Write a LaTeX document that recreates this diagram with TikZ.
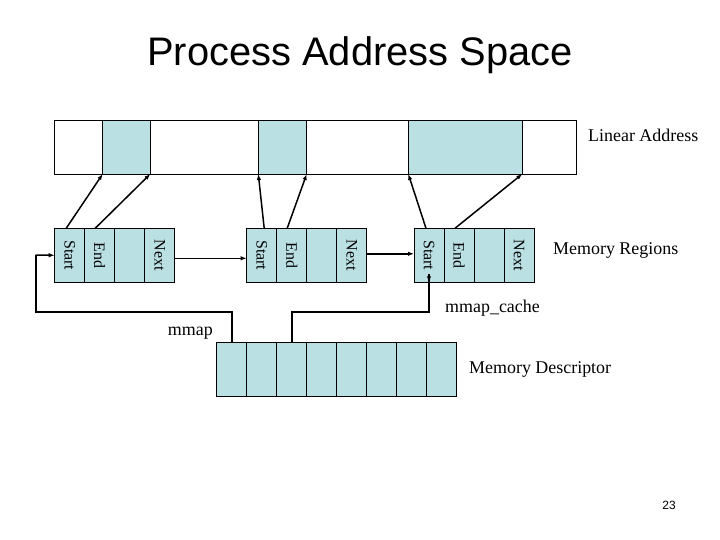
\documentclass[tikz,border=0pt]{standalone}
\usepackage{fontspec}
\setmainfont{Liberation Serif}
\newfontfamily\arialf{Liberation Sans}
\usetikzlibrary{arrows.meta,calc}
\definecolor{cellblue}{RGB}{187,224,228}
\begin{document}
\begin{tikzpicture}[x=1bp,y=-1bp,
  seg/.style={draw=black,line width=0.8bp,inner sep=0,outer sep=0,anchor=north west,minimum height=54bp},
  cell/.style={draw=black,line width=0.8bp,fill=cellblue,inner sep=0,outer sep=0,anchor=north west,minimum width=30bp,minimum height=54bp,font=\fontsize{16}{16}\selectfont},
  vt/.style={rotate=-90},
  ptr/.style={line width=1.5bp,-{Latex[length=6bp,width=4.5bp]}},
  link/.style={line width=2.2bp},
  lbl/.style={font=\fontsize{18}{18}\selectfont,inner sep=0}
]
\useasboundingbox (0,0) rectangle (720,540);
% title
\node[font=\arialf\fontsize{40}{40}\selectfont,inner sep=0] (title) at (360,55) {Process Address Space};
% linear address bar
\node[seg,minimum width=48bp] (la0) at (54.7,120) {};
\node[seg,minimum width=47.6bp,fill=cellblue] (la1) at (102.7,120) {};
\node[seg,minimum width=108bp] (la2) at (150.3,120) {};
\node[seg,minimum width=48.4bp,fill=cellblue] (la3) at (258.3,120) {};
\node[seg,minimum width=101.6bp] (la4) at (306.7,120) {};
\node[seg,minimum width=114bp,fill=cellblue] (la5) at (408.3,120) {};
\node[seg,minimum width=54.4bp] (la6) at (522.3,120) {};
\node[lbl,anchor=west] (latxt) at (588,135) {Linear Address};
% memory regions
\foreach \g/\x in {1/54.7,2/246.7,3/414}{
  \node[cell] (r\g s) at (\x,228.3) {};
  \node[cell] (r\g e) at (\x+30,228.3) {};
  \node[cell] (r\g b) at (\x+60,228.3) {};
  \node[cell] (r\g n) at (\x+90,228.3) {};
  \node[vt,font=\fontsize{16}{16}\selectfont,inner sep=0] (r\g st) at (r\g s.center) {Start};
  \node[vt,font=\fontsize{16}{16}\selectfont,inner sep=0] (r\g et) at (r\g e.center) {End};
  \node[vt,font=\fontsize{16}{16}\selectfont,inner sep=0] (r\g nt) at (r\g n.center) {Next};
}
\node[lbl,anchor=west] (mrtxt) at (553,250) {Memory Regions};
% memory descriptor
\foreach \i in {1,...,8}{
  \node[cell] (md\i) at (216.7+30*\i-30,342) {};
}
\node[lbl,anchor=west] (mdtxt) at (469,369) {Memory Descriptor};
\node[lbl,anchor=east] (mmtxt) at (213,333) {mmap};
\node[lbl,anchor=west] (mctxt) at (445,308) {mmap\_cache};
% pointers to linear address
\draw[ptr] ([xshift=-3.5bp]r1s.north) -- (la1.south west);
\draw[ptr] ([xshift=-4.5bp]r1e.north) -- (la1.south east);
\draw[ptr] ([xshift=2.5bp]r2s.north) -- (la3.south west);
\draw[ptr] ([xshift=-4.5bp]r2e.north) -- (la3.south east);
\draw[ptr] ([xshift=-3bp]r3s.north) -- (la5.south west);
\draw[ptr] ([xshift=-4bp]r3e.north) -- (la5.south east);
% next links
\draw[ptr] ([yshift=-3bp]r1n.east) -- ([yshift=-3bp]r2s.west);
\draw[ptr] ([yshift=1.5bp]r2n.east) -- ([yshift=1.5bp]r3s.west);
% mmap and mmap_cache
\coordinate (c1) at (35.7,311.7);
\draw[link] (md1.north) |- (c1) -- (35.7,255);
\draw[ptr] (35.7,255) -- (r1s.west);
\draw[link] (md3.north) -- ++(0,-30.3) -| ([yshift=8bp]r3s.south);
\draw[ptr] ([yshift=8bp]r3s.south) -- (r3s.south);
% page number
\node[font=\arialf\fontsize{12}{12}\selectfont,inner sep=0] (pg) at (669,505) {23};
\end{tikzpicture}
\end{document}
